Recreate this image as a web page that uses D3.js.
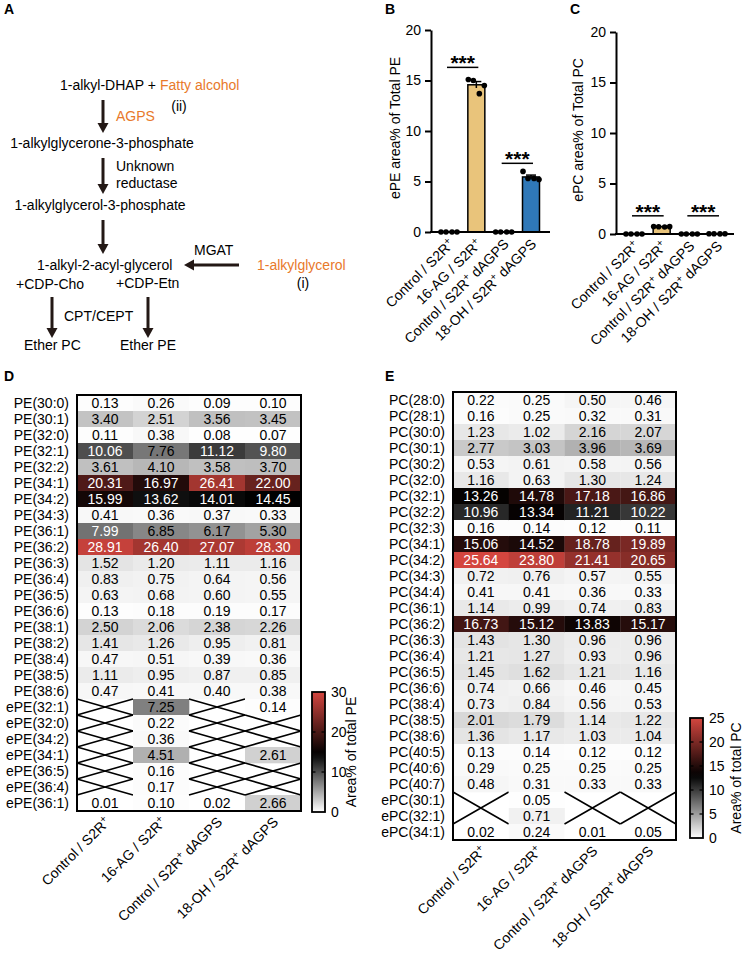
<!DOCTYPE html>
<html><head><meta charset="utf-8">
<script src="https://cdn.jsdelivr.net/npm/d3@7"></script>
<style>body{margin:0;background:#fff}svg text{font-family:Arial,"Liberation Sans",sans-serif}</style>
</head><body><svg id="c" width="747" height="955"></svg>
<script>
// ---------------- DATA ----------------
const groups = ["Control / S2R+", "16-AG / S2R+", "Control / S2R+ dAGPS", "18-OH / S2R+ dAGPS"];
const barColors = ["#E9C47B", "#E9C47B", "#2F78B8", "#2F78B8"];
const yTicksBar = [0, 5, 10, 15, 20];

// Panel B: ePE area% of total PE (4 replicates per group)
const ePE_ctrl = [0, 0, 0, 0];
const ePE_16AG = [15.1, 15.0, 13.7, 14.5];
const ePE_ctrlD = [0, 0, 0, 0];
const ePE_18OH = [6.0, 5.3, 5.3, 5.2];
// Panel C: ePC area% of total PC
const ePC_ctrl = [0, 0, 0, 0];
const ePC_16AG = [0.75, 0.72, 0.70, 0.73];
const ePC_ctrlD = [0, 0, 0, 0];
const ePC_18OH = [0.02, 0.02, 0.01, 0.03];

// Panel D heatmap
const peRows = ["PE(30:0)","PE(30:1)","PE(32:0)","PE(32:1)","PE(32:2)","PE(34:1)","PE(34:2)","PE(34:3)","PE(36:1)","PE(36:2)","PE(36:3)","PE(36:4)","PE(36:5)","PE(36:6)","PE(38:1)","PE(38:2)","PE(38:4)","PE(38:5)","PE(38:6)","ePE(32:1)","ePE(32:0)","ePE(34:2)","ePE(34:1)","ePE(36:5)","ePE(36:4)","ePE(36:1)"];
const pe_ctrl  = [0.13,3.40,0.11,10.06,3.61,20.31,15.99,0.41,7.99,28.91,1.52,0.83,0.63,0.13,2.50,1.41,0.47,1.11,0.47,null,null,null,null,null,null,0.01];
const pe_16AG  = [0.26,2.51,0.38,7.76,4.10,16.97,13.62,0.36,6.85,26.40,1.20,0.75,0.68,0.18,2.06,1.26,0.51,0.95,0.41,7.25,0.22,0.36,4.51,0.16,0.17,0.10];
const pe_ctrlD = [0.09,3.56,0.08,11.12,3.58,26.41,14.01,0.37,6.17,27.07,1.11,0.64,0.60,0.19,2.38,0.95,0.39,0.87,0.40,null,null,null,null,null,null,0.02];
const pe_18OH  = [0.10,3.45,0.07,9.80,3.70,22.00,14.45,0.33,5.30,28.30,1.16,0.56,0.55,0.17,2.26,0.81,0.36,0.85,0.38,0.14,null,null,2.61,null,null,2.66];
const peTicks = [0, 10, 20, 30];

// Panel E heatmap
const pcRows = ["PC(28:0)","PC(28:1)","PC(30:0)","PC(30:1)","PC(30:2)","PC(32:0)","PC(32:1)","PC(32:2)","PC(32:3)","PC(34:1)","PC(34:2)","PC(34:3)","PC(34:4)","PC(36:1)","PC(36:2)","PC(36:3)","PC(36:4)","PC(36:5)","PC(36:6)","PC(38:4)","PC(38:5)","PC(38:6)","PC(40:5)","PC(40:6)","PC(40:7)","ePC(30:1)","ePC(32:1)","ePC(34:1)"];
const pc_ctrl  = [0.22,0.16,1.23,2.77,0.53,1.16,13.26,10.96,0.16,15.06,25.64,0.72,0.41,1.14,16.73,1.43,1.21,1.45,0.74,0.73,2.01,1.36,0.13,0.29,0.48,null,null,0.02];
const pc_16AG  = [0.25,0.25,1.02,3.03,0.61,0.63,14.78,13.34,0.14,14.52,23.80,0.76,0.41,0.99,15.12,1.30,1.27,1.62,0.66,0.84,1.79,1.17,0.14,0.25,0.31,0.05,0.71,0.24];
const pc_ctrlD = [0.50,0.32,2.16,3.96,0.58,1.30,17.18,11.21,0.12,18.78,21.41,0.57,0.36,0.74,13.83,0.96,0.93,1.21,0.46,0.56,1.14,1.03,0.12,0.25,0.33,null,null,0.01];
const pc_18OH  = [0.46,0.31,2.07,3.69,0.56,1.24,16.86,10.22,0.11,19.89,20.65,0.55,0.33,0.83,15.17,0.96,0.96,1.16,0.45,0.53,1.22,1.04,0.12,0.25,0.33,null,null,0.05];
const pcTicks = [0, 5, 10, 15, 20, 25];

// ---------------- DRAW ----------------
const svg = d3.select("#c");
svg.append("rect").attr("width", 747).attr("height", 955).attr("fill", "#fff");
const ORANGE = "#E8792B", DARK = "#231815";

function addGroupLabel(t, label) {
  const i = label.indexOf("+");
  t.append("tspan").text(label.slice(0, i));
  t.append("tspan").attr("baseline-shift", "super").attr("font-size", "10px").text("+");
  t.append("tspan").text(label.slice(i + 1));
}

// panel letters
[["A",4,14],["B",385,14],["C",570,14],["D",4,381],["E",385,381]].forEach(([l,x,y]) =>
  svg.append("text").attr("x", x).attr("y", y).attr("font-size", 14).attr("font-weight", "bold").text(l));

// ---------- Panel A: pathway ----------
const gA = svg.append("g");
function txt(s, x, y, color, anchor) {
  gA.append("text").attr("x", x).attr("y", y).attr("font-size", 14).attr("fill", color || "#000")
    .attr("text-anchor", anchor || "start").text(s);
}
function arrow(x1, y1, x2, y2) {
  const L = Math.hypot(x2 - x1, y2 - y1), ux = (x2 - x1) / L, uy = (y2 - y1) / L, h = 10, w = 5.5;
  gA.append("line").attr("x1", x1).attr("y1", y1).attr("x2", x2 - ux * h).attr("y2", y2 - uy * h)
    .attr("stroke", DARK).attr("stroke-width", 3);
  const bx = x2 - ux * h, by = y2 - uy * h;
  gA.append("path").attr("d", `M${x2},${y2}L${bx - uy * w},${by + ux * w}L${bx + uy * w},${by - ux * w}Z`).attr("fill", DARK);
}
txt("1-alkyl-DHAP +", 60, 90);
txt("Fatty alcohol", 160, 90, ORANGE);
txt("(ii)", 179, 111, "#000", "middle");
arrow(103, 100, 103, 133);
txt("AGPS", 116, 121, ORANGE);
txt("1-alkylglycerone-3-phosphate", 102, 148, "#000", "middle");
arrow(103, 158, 103, 194);
txt("Unknown", 116, 171);
txt("reductase", 116, 188);
txt("1-alkylglycerol-3-phosphate", 100, 210, "#000", "middle");
arrow(103, 220, 103, 254);
txt("1-alkyl-2-acyl-glycerol", 37, 270);
arrow(239, 265, 184, 265);
txt("MGAT", 194, 255);
txt("1-alkylglycerol", 257, 270, ORANGE);
txt("(i)", 303, 288, "#000", "middle");
txt("+CDP-Cho", 16, 289);
txt("+CDP-Etn", 116, 288);
arrow(52, 297, 52, 338);
arrow(148, 297, 148, 338);
txt("CPT/CEPT", 64, 321);
txt("Ether PC", 24, 350);
txt("Ether PE", 120, 350);

// ---------- Panels B, C: bar charts ----------
function barPanel(cfg) {
  const g = svg.append("g");
  const y = d3.scaleLinear().domain([0, 20]).range([cfg.yBot, cfg.yTop]);
  const x = d3.scalePoint().domain(groups).range([cfg.xFirst, cfg.xLast]);
  const bw = 17, jitter = [-8, -3, 3, 8];
  cfg.values.forEach((vals, i) => {
    const cx = x(groups[i]);
    const m = d3.mean(vals), sem = d3.deviation(vals) / Math.sqrt(vals.length);
    if (m > 0.05) {
      g.append("rect").attr("x", cx - bw / 2).attr("y", y(m)).attr("width", bw).attr("height", y(0) - y(m))
        .attr("fill", barColors[i]).attr("stroke", "#000").attr("stroke-width", 1.5);
      if (sem > 0.02) {
        g.append("line").attr("x1", cx).attr("x2", cx).attr("y1", y(m - sem)).attr("y2", y(m + sem)).attr("stroke", "#000").attr("stroke-width", 1.5);
        g.append("line").attr("x1", cx - 5).attr("x2", cx + 5).attr("y1", y(m + sem)).attr("y2", y(m + sem)).attr("stroke", "#000").attr("stroke-width", 1.5);
      }
    }
    vals.forEach((v, k) => g.append("circle").attr("cx", cx + jitter[k]).attr("cy", y(v)).attr("r", 2.8).attr("fill", "#000"));
  });
  const ax = g.append("g").attr("transform", `translate(${cfg.axisX},0)`)
    .call(d3.axisLeft(y).tickValues(yTicksBar).tickSize(6).tickSizeOuter(0).tickPadding(4));
  ax.select(".domain").attr("stroke-width", 2);
  ax.selectAll(".tick line").attr("stroke-width", 2);
  ax.selectAll(".tick text").attr("font-size", 14).attr("font-family", "Arial,'Liberation Sans',sans-serif");
  g.append("line").attr("x1", cfg.axisX - 1).attr("x2", cfg.xEnd).attr("y1", y(0)).attr("y2", y(0)).attr("stroke", "#000").attr("stroke-width", 2);
  g.append("text").attr("transform", `translate(${cfg.labelX},${(y(0) + y(20)) / 2 - 3}) rotate(-90)`)
    .attr("text-anchor", "middle").attr("font-size", 14).text(cfg.ylabel);
  groups.forEach(gr => {
    const t = g.append("text").attr("transform", `translate(${x(gr) + 6},${y(0) + 13}) rotate(-45)`)
      .attr("text-anchor", "end").attr("font-size", 14);
    addGroupLabel(t, gr);
  });
  cfg.sig.forEach(([a, b, lv]) => {
    const x1 = x(groups[a]) - 2, x2 = x(groups[b]) + 2, yy = y(lv);
    g.append("line").attr("x1", x1).attr("x2", x2).attr("y1", yy).attr("y2", yy).attr("stroke", "#000").attr("stroke-width", 1.5);
    g.append("text").attr("x", (x1 + x2) / 2).attr("y", yy + 3).attr("text-anchor", "middle")
      .attr("font-size", 21).attr("font-weight", "bold").text("***");
  });
}
barPanel({ values: [ePE_ctrl, ePE_16AG, ePE_ctrlD, ePE_18OH], yTop: 30, yBot: 232, xFirst: 449, xLast: 531,
  axisX: 431, xEnd: 550, labelX: 400, ylabel: "ePE area% of Total PE", sig: [[0, 1, 16.3], [2, 3, 6.8]] });
barPanel({ values: [ePC_ctrl, ePC_16AG, ePC_ctrlD, ePC_18OH], yTop: 32, yBot: 234, xFirst: 634, xLast: 717,
  axisX: 616, xEnd: 734, labelX: 583, ylabel: "ePC area% of Total PC", sig: [[0, 1, 1.8], [2, 3, 1.8]] });

// ---------- Panels D, E: heatmaps ----------
function heatmap(cfg) {
  const g = svg.append("g");
  const x = d3.scaleBand().domain(groups).range([cfg.x0, cfg.x1]);
  const y = d3.scaleBand().domain(cfg.rows).range([cfg.y0, cfg.y1]);
  const color = d3.scaleLinear().domain(cfg.cdomain).range(["#ffffff", "#000000", "#d4463f"]).clamp(true);
  cfg.cols.forEach((col, c) => {
    const gx = x(groups[c]);
    col.forEach((v, r) => {
      if (v == null) return;
      const gy = y(cfg.rows[r]);
      g.append("rect").attr("x", gx).attr("y", gy).attr("width", x.bandwidth() + 0.3).attr("height", y.bandwidth() + 0.3).attr("fill", color(v));
      g.append("text").attr("x", gx + x.bandwidth() / 2).attr("y", gy + y.bandwidth() / 2 + 5)
        .attr("text-anchor", "middle").attr("font-size", 14).attr("fill", v > cfg.whiteAbove ? "#fff" : "#000")
        .text(v.toFixed(2));
    });
    // crosses for missing values
    let r = 0;
    while (r < col.length) {
      if (col[r] == null) {
        let e = r; while (e + 1 < col.length && col[e + 1] == null) e++;
        const spans = [];
        if (cfg.blockCross) spans.push([r, e]); else for (let k = r; k <= e; k++) spans.push([k, k]);
        spans.forEach(([s, t]) => {
          const ya = y(cfg.rows[s]), yb = y(cfg.rows[t]) + y.bandwidth(), xa = gx, xb = gx + x.bandwidth();
          g.append("path").attr("d", `M${xa},${ya}L${xb},${yb}M${xa},${yb}L${xb},${ya}`)
            .attr("stroke", "#000").attr("stroke-width", 1.6).attr("fill", "none");
        });
        r = e + 1;
      } else r++;
    }
  });
  g.append("rect").attr("x", cfg.x0).attr("y", cfg.y0).attr("width", cfg.x1 - cfg.x0).attr("height", cfg.y1 - cfg.y0)
    .attr("fill", "none").attr("stroke", "#000").attr("stroke-width", 2);
  cfg.rows.forEach(rw => g.append("text").attr("x", cfg.x0 - 8).attr("y", y(rw) + y.bandwidth() / 2 + 5)
    .attr("text-anchor", "end").attr("font-size", 14).text(rw));
  groups.forEach(gr => {
    const t = g.append("text").attr("transform", `translate(${x(gr) + x.bandwidth() / 2 + 6},${cfg.y1 + 12}) rotate(-45)`)
      .attr("text-anchor", "end").attr("font-size", 14);
    addGroupLabel(t, gr);
  });
  // colorbar
  const cb = cfg.cb, max = cfg.cdomain[2];
  const cy = d3.scaleLinear().domain([0, max]).range([cb.y1, cb.y0]);
  const gid = "grad" + cfg.id;
  const grad = svg.append("defs").append("linearGradient").attr("id", gid).attr("x1", 0).attr("x2", 0).attr("y1", 1).attr("y2", 0);
  d3.range(0, 21).forEach(i => grad.append("stop").attr("offset", i / 20).attr("stop-color", color(max * i / 20)));
  g.append("rect").attr("x", cb.x).attr("y", cb.y0).attr("width", cb.w).attr("height", cb.y1 - cb.y0)
    .attr("fill", `url(#${gid})`).attr("stroke", "#000").attr("stroke-width", 1.8);
  cfg.ticks.forEach(tv => {
    if (tv > 0 && tv < max) {
      [[cb.x, cb.x + 3.5], [cb.x + cb.w - 3.5, cb.x + cb.w]].forEach(([a, b]) =>
        g.append("line").attr("x1", a).attr("x2", b).attr("y1", cy(tv)).attr("y2", cy(tv)).attr("stroke", "#000").attr("stroke-width", 1.3));
    }
    g.append("text").attr("x", cb.x + cb.w + 6).attr("y", cy(tv) + 5).attr("font-size", 14).text(tv);
  });
  g.append("text").attr("transform", `translate(${cb.titleX},${(cb.y0 + cb.y1) / 2}) rotate(-90)`)
    .attr("text-anchor", "middle").attr("font-size", 14).text(cfg.cbTitle);
}
heatmap({ id: "D", rows: peRows, cols: [pe_ctrl, pe_16AG, pe_ctrlD, pe_18OH], x0: 77, x1: 301, y0: 395, y1: 811,
  cdomain: [0, 14.5, 30], whiteAbove: 7.9, blockCross: false, ticks: peTicks,
  cb: { x: 312, w: 13, y0: 692, y1: 812, titleX: 356 }, cbTitle: "Area% of total PE" });
heatmap({ id: "E", rows: pcRows, cols: [pc_ctrl, pc_16AG, pc_ctrlD, pc_18OH], x0: 453, x1: 676, y0: 392, y1: 840,
  cdomain: [0, 13, 25], whiteAbove: 8, blockCross: true, ticks: pcTicks,
  cb: { x: 690, w: 13, y0: 718, y1: 838, titleX: 741 }, cbTitle: "Area% of total PC" });
</script></body></html>
